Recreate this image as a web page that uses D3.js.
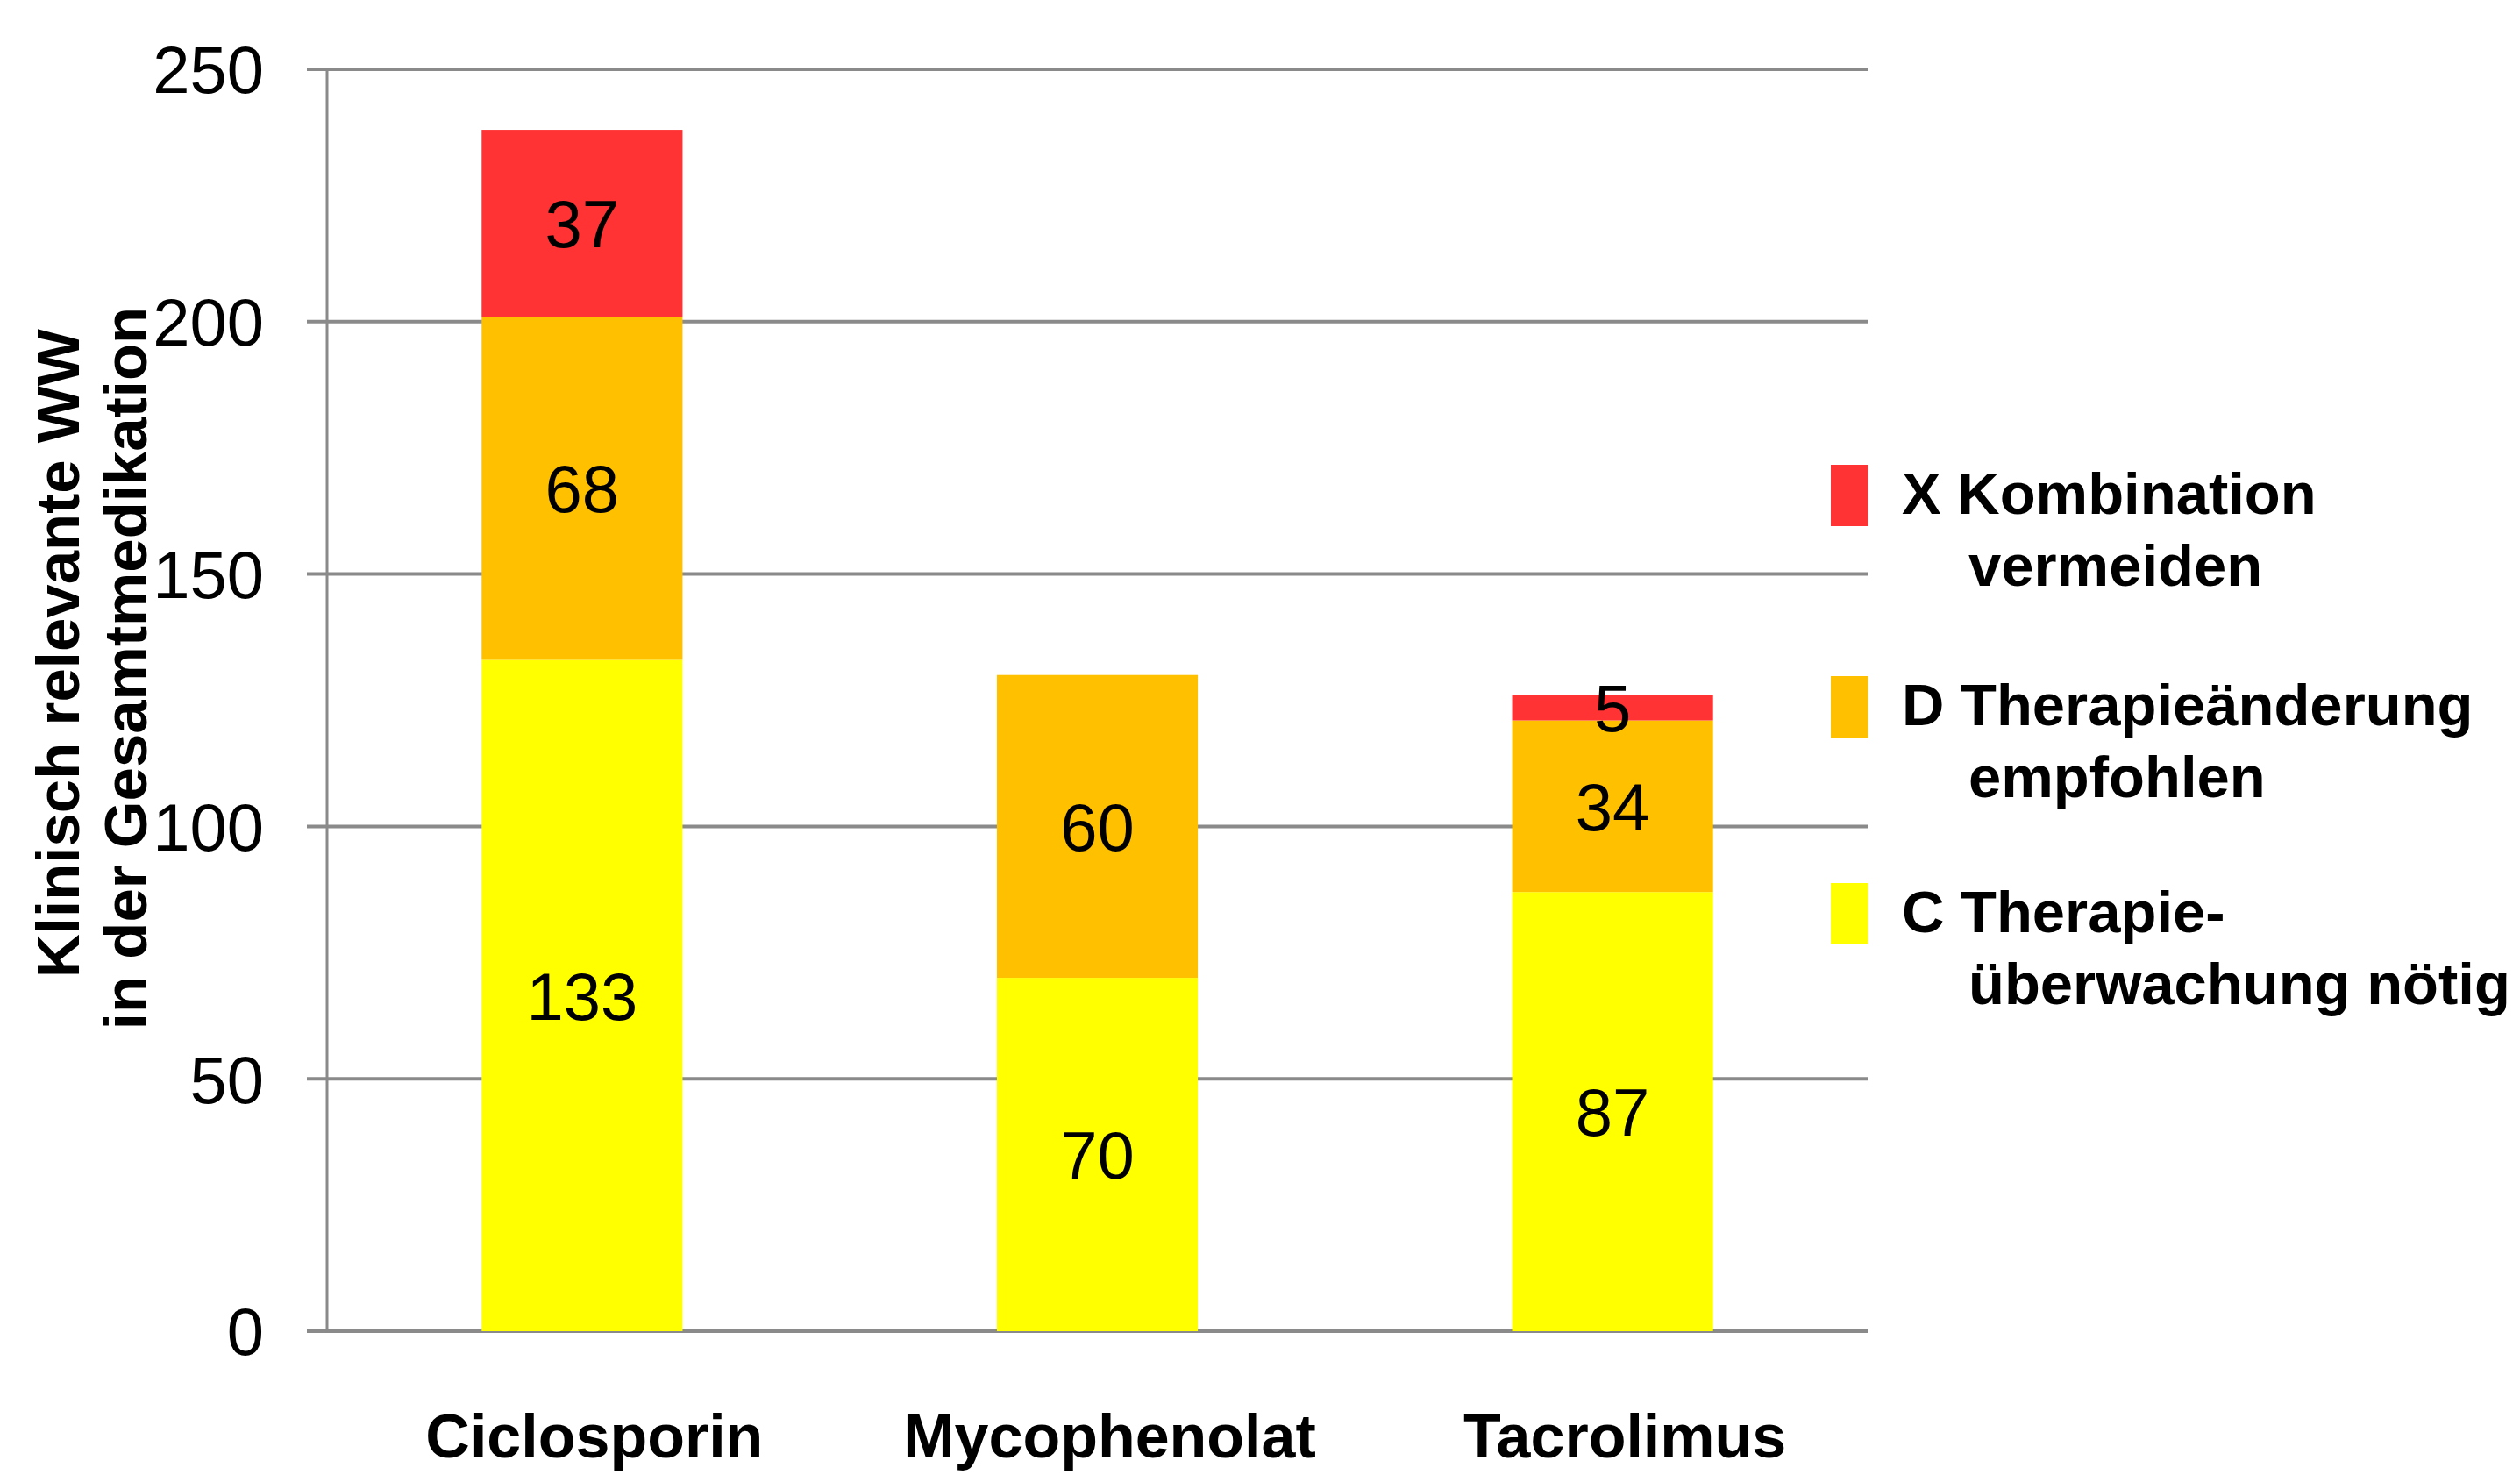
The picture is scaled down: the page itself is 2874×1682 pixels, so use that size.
<!DOCTYPE html>
<html>
<head>
<meta charset="utf-8">
<script src="https://cdn.jsdelivr.net/npm/d3@7"></script>
<style>
  html, body { margin: 0; padding: 0; background: #fff; }
  text { font-family: "Liberation Sans", Arial, sans-serif; }
</style>
</head>
<body>
<div id="vis"></div>
<script>
// data
const drugs = ['Ciclosporin', 'Mycophenolat', 'Tacrolimus']
const seriesKeys = ['C', 'D', 'X']
const valuesC = [133, 70, 87]
const valuesD = [68, 60, 34]
const valuesX = [37, 0, 5]
const yTicks = [0, 50, 100, 150, 200, 250]
const legendLabels = {
    X: ['X Kombination', 'vermeiden'],
    D: ['D Therapieänderung', 'empfohlen'],
    C: ['C Therapie-', 'überwachung nötig']
}
const yTitle = ['Klinisch relevante WW', 'in der Gesamtmedikation']

const colors = {C: '#ffff00', D: '#ffc000', X: '#ff3333'}

const W = 2874, H = 1682
const margin = {left: 373, right: 744, top: 79, bottom: 164}

const rows = drugs.map((d, i) => ({drug: d, C: valuesC[i], D: valuesD[i], X: valuesX[i]}))
const stacked = d3.stack().keys(seriesKeys)(rows)

const svg = d3.select('#vis').append('svg')
    .attr('width', W)
    .attr('height', H)

const x = d3.scaleBand()
    .domain(drugs)
    .range([margin.left, W - margin.right])
    .paddingInner(0.61)
    .paddingOuter(0.3)

const y = d3.scaleLinear()
    .domain([0, 250])
    .range([H - margin.bottom, margin.top])

// gridlines + tick labels
const grid = svg.append('g')
grid.selectAll('line')
    .data(yTicks)
    .enter()
    .append('line')
    .attr('x1', margin.left - 23)
    .attr('x2', W - margin.right)
    .attr('y1', d => y(d))
    .attr('y2', d => y(d))
    .attr('stroke', '#8a8a8a')
    .attr('stroke-width', 4)

grid.selectAll('text')
    .data(yTicks)
    .enter()
    .append('text')
    .attr('x', margin.left - 72)
    .attr('y', d => y(d))
    .attr('dy', '0.36em')
    .attr('text-anchor', 'end')
    .attr('font-size', 76)
    .attr('fill', '#000')
    .text(d => d)

svg.append('line')
    .attr('x1', margin.left)
    .attr('x2', margin.left)
    .attr('y1', y(250))
    .attr('y2', y(0))
    .attr('stroke', '#8a8a8a')
    .attr('stroke-width', 3)

// stacked bars
const layers = svg.selectAll('.layer')
    .data(stacked)
    .enter()
    .append('g')
    .attr('class', 'layer')
    .attr('fill', d => colors[d.key])

layers.selectAll('rect')
    .data(d => d.filter(p => p[1] > p[0]))
    .enter()
    .append('rect')
    .attr('x', d => x(d.data.drug))
    .attr('width', x.bandwidth())
    .attr('y', d => y(d[1]))
    .attr('height', d => y(d[0]) - y(d[1]))

layers.selectAll('text')
    .data(d => d.filter(p => p[1] > p[0]))
    .enter()
    .append('text')
    .attr('x', d => x(d.data.drug) + x.bandwidth() / 2)
    .attr('y', d => y((d[0] + d[1]) / 2))
    .attr('dy', '0.36em')
    .attr('text-anchor', 'middle')
    .attr('font-size', 76)
    .attr('fill', '#000')
    .text(d => d[1] - d[0])

// category labels
svg.append('g')
    .selectAll('text')
    .data(drugs)
    .enter()
    .append('text')
    .attr('x', d => x(d) + x.bandwidth() / 2 + 14)
    .attr('y', 1662)
    .attr('text-anchor', 'middle')
    .attr('font-size', 70)
    .attr('font-weight', 'bold')
    .attr('fill', '#000')
    .text(d => d)

// y axis title, two rotated lines
svg.append('g')
    .selectAll('text')
    .data(yTitle)
    .enter()
    .append('text')
    .attr('transform', (d, i) => `translate(${i === 0 ? 90 : 167},${i === 0 ? 745 : 762}) rotate(-90)`)
    .attr('text-anchor', 'middle')
    .attr('font-size', 69)
    .attr('font-weight', 'bold')
    .attr('fill', '#000')
    .text(d => d)

// legend
const legendOrder = ['X', 'D', 'C']
const legendTop = [530, 771, 1007]
const legend = svg.append('g')
const items = legend.selectAll('g')
    .data(legendOrder)
    .enter()
    .append('g')
    .attr('transform', (d, i) => `translate(2088,${legendTop[i]})`)

items.append('rect')
    .attr('width', 42)
    .attr('height', 70)
    .attr('fill', d => colors[d])

items.append('text')
    .attr('x', 81)
    .attr('y', 56)
    .attr('font-size', 67)
    .attr('font-weight', 'bold')
    .attr('fill', '#000')
    .text(d => legendLabels[d][0])

items.append('text')
    .attr('x', 157)
    .attr('y', 138)
    .attr('font-size', 67)
    .attr('font-weight', 'bold')
    .attr('fill', '#000')
    .text(d => legendLabels[d][1])
</script>
</body>
</html>
